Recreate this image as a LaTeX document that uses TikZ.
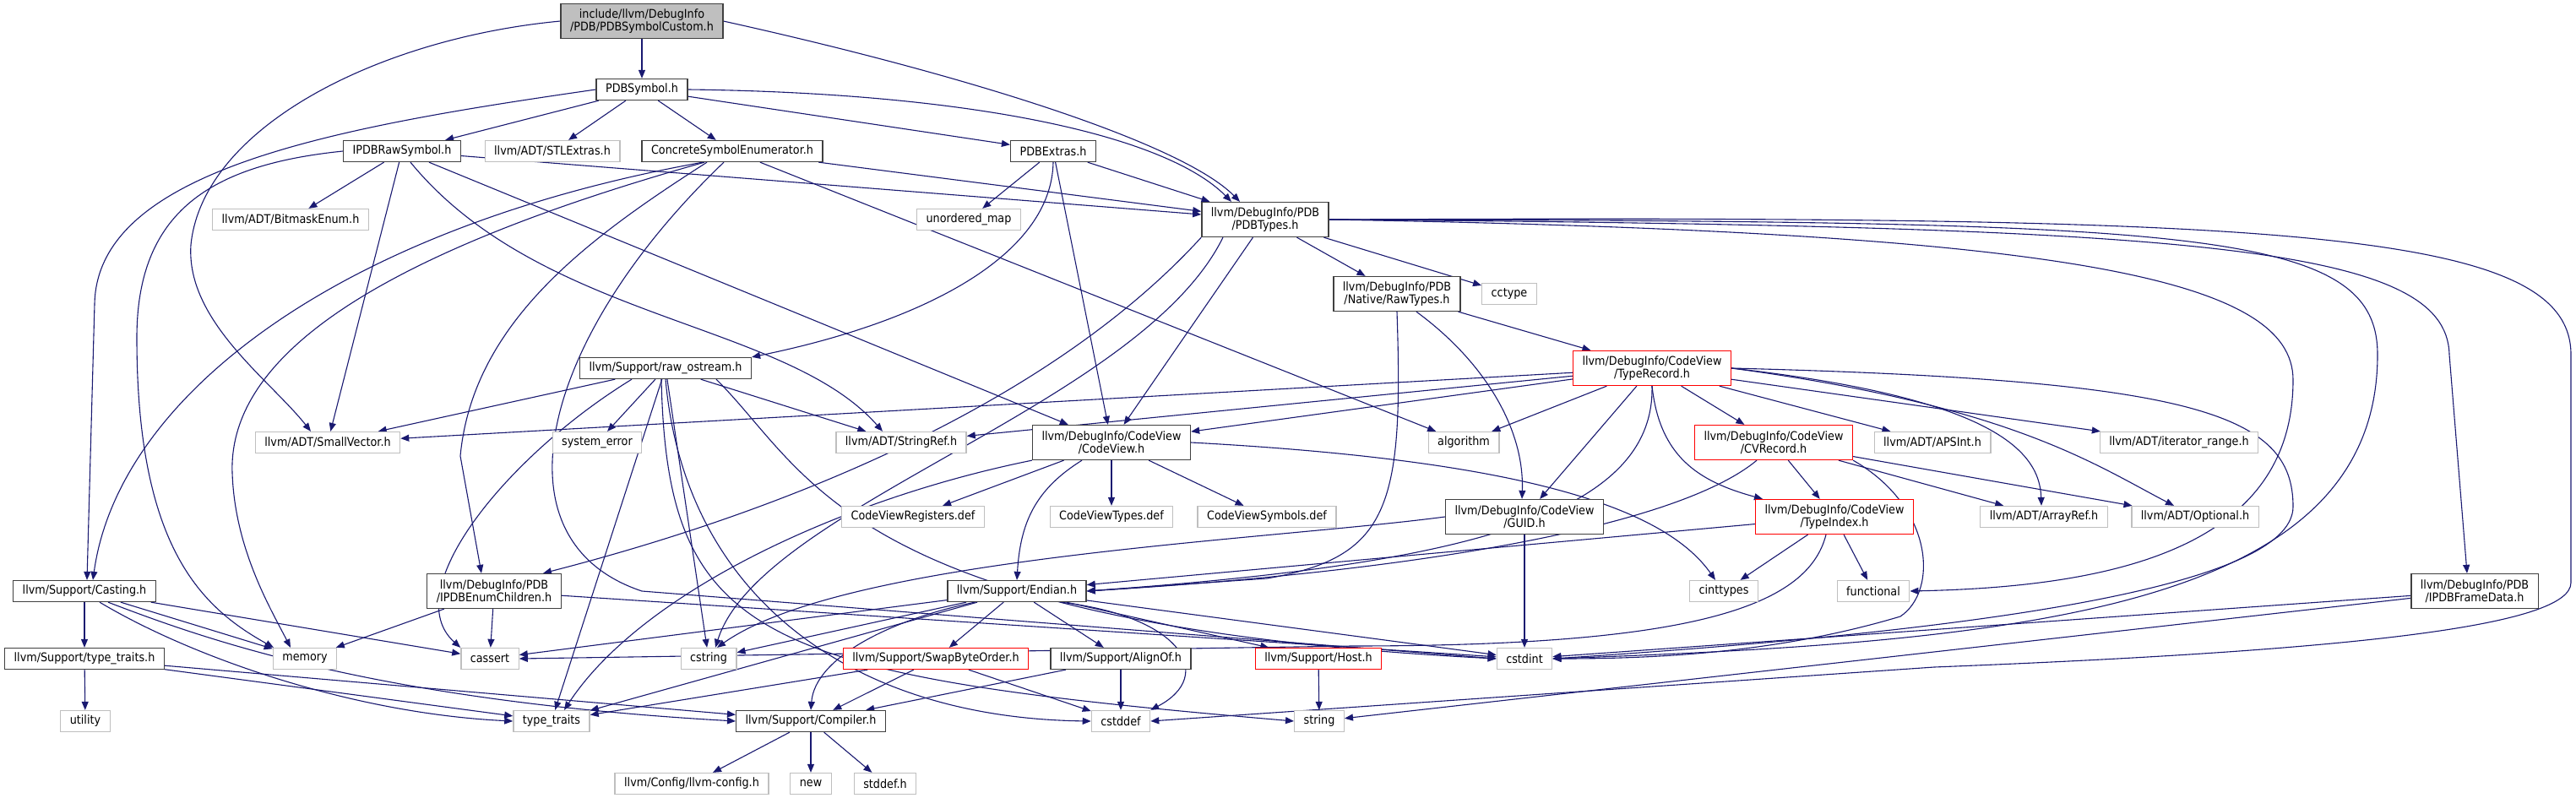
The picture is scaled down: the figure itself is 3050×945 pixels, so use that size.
\documentclass[tikz,border=0pt]{standalone}
\usepackage{fontspec}
\setmainfont[FakeStretch=0.9]{DejaVu Sans}
\usetikzlibrary{arrows.meta, backgrounds}
\tikzset{every node/.append style={align=center}}
\definecolor{edgecol}{RGB}{25,25,112}
\definecolor{boxcol}{RGB}{64,64,64}
\definecolor{syscol}{RGB}{191,191,191}
\definecolor{rootcol}{RGB}{191,191,191}
\definecolor{trunccol}{RGB}{255,0,0}

\begin{document}
\begin{tikzpicture}[
  x=1pt, y=-1pt,
  hdr/.style={rectangle, draw=boxcol, line width=1.3pt, fill=white,
              font=\fontsize{14.2}{15}\selectfont, inner xsep=11pt,
              inner ysep=2pt, minimum height=25pt},
  sys/.style={hdr, draw=syscol},
  trunc/.style={hdr, draw=trunccol},
  tall/.style={minimum height=41pt},
  edge/.style={-{Triangle[length=10pt,width=8pt]}, line width=1.1pt, draw=edgecol}
]
\useasboundingbox (0,0) rectangle (3050,945);

% Top of the graph
\node[hdr, tall, fill=rootcol] (root) at (760,25) {include/llvm/DebugInfo\\/PDB/PDBSymbolCustom.h};
\node[hdr] (pdbsym)   at (760,106)  {PDBSymbol.h};
\node[hdr] (rawsym)   at (476,179)  {IPDBRawSymbol.h};
\node[sys] (stlext)   at (654,179)  {llvm/ADT/STLExtras.h};
\node[hdr] (concrete) at (867,179)  {ConcreteSymbolEnumerator.h};
\node[hdr] (extras)   at (1247,179) {PDBExtras.h};
\node[sys] (bitmask)  at (344,260)  {llvm/ADT/BitmaskEnum.h};
\node[sys] (umap)     at (1147,260) {unordered\_map};
\node[hdr, tall] (pdbtypes) at (1498,260) {llvm/DebugInfo/PDB\\/PDBTypes.h};
\node[hdr, tall] (rawtypes) at (1654,348) {llvm/DebugInfo/PDB\\/Native/RawTypes.h};
\node[sys] (cctype)   at (1787,348) {cctype};

% Middle rows
\node[hdr] (ostream)  at (788,436)  {llvm/Support/raw\_ostream.h};
\node[trunc, tall] (typerec) at (1956,436) {llvm/DebugInfo/CodeView\\/TypeRecord.h};
\node[sys] (smallvec) at (388,524)  {llvm/ADT/SmallVector.h};
\node[sys] (syserr)   at (707,524)  {system\_error};
\node[sys] (stringref) at (1067,524) {llvm/ADT/StringRef.h};
\node[hdr, tall] (codeview) at (1316,524) {llvm/DebugInfo/CodeView\\/CodeView.h};
\node[sys] (algorithm) at (1733,524) {algorithm};
\node[trunc, tall] (cvrecord) at (2100,524) {llvm/DebugInfo/CodeView\\/CVRecord.h};
\node[sys] (apsint)   at (2288,524) {llvm/ADT/APSInt.h};
\node[sys] (itrange)  at (2580,524) {llvm/ADT/iterator\_range.h};
\node[sys] (cvregs)   at (1081,612) {CodeViewRegisters.def};
\node[sys] (cvtypes)  at (1316,612) {CodeViewTypes.def};
\node[sys] (cvsyms)   at (1500,612) {CodeViewSymbols.def};
\node[hdr, tall] (guid) at (1805,612) {llvm/DebugInfo/CodeView\\/GUID.h};
\node[trunc, tall] (typeindex) at (2172,612) {llvm/DebugInfo/CodeView\\/TypeIndex.h};
\node[sys] (arrayref) at (2420,612) {llvm/ADT/ArrayRef.h};
\node[sys] (optional) at (2599,612) {llvm/ADT/Optional.h};

% Lower rows
\node[hdr] (casting)  at (100,700)  {llvm/Support/Casting.h};
\node[hdr, tall] (enumchild) at (585,700) {llvm/DebugInfo/PDB\\/IPDBEnumChildren.h};
\node[hdr] (endian)   at (1204,700) {llvm/Support/Endian.h};
\node[sys] (cinttypes) at (2041,700) {cinttypes};
\node[sys] (functional) at (2218,700) {functional};
\node[hdr, tall] (framedata) at (2930,700) {llvm/DebugInfo/PDB\\/IPDBFrameData.h};
\node[hdr] (lltraits) at (100,780)  {llvm/Support/type\_traits.h};
\node[sys] (memory)   at (361,780)  {memory};
\node[sys] (cassert)  at (580,780)  {cassert};
\node[sys] (cstring)  at (839,780)  {cstring};
\node[trunc] (swap)   at (1108,780) {llvm/Support/SwapByteOrder.h};
\node[hdr] (alignof)  at (1327,780) {llvm/Support/AlignOf.h};
\node[trunc] (host)   at (1561,780) {llvm/Support/Host.h};
\node[sys] (cstdint)  at (1805,780) {cstdint};
\node[sys] (utility)  at (101,854)  {utility};
\node[sys] (typetraits) at (653,854) {type\_traits};
\node[hdr] (compiler) at (960,854)  {llvm/Support/Compiler.h};
\node[sys] (cstddef)  at (1327,854) {cstddef};
\node[sys] (string)   at (1562,854) {string};
\node[sys] (llvmconfig) at (819,928) {llvm/Config/llvm-config.h};
\node[sys] (new)      at (960,928)  {new};
\node[sys] (stddef)   at (1048,928) {stddef.h};

\begin{scope}[on background layer]
% Straight includes
\foreach \a/\b in {root/pdbsym, pdbsym/rawsym, pdbsym/stlext, pdbsym/concrete, pdbsym/extras,
    rawsym/bitmask, rawsym/smallvec, rawsym/codeview, rawsym/pdbtypes,
    concrete/pdbtypes, concrete/algorithm,
    extras/umap, extras/pdbtypes, extras/codeview,
    pdbtypes/rawtypes, pdbtypes/cctype, pdbtypes/codeview, rawtypes/typerec,
    ostream/smallvec, ostream/stringref, ostream/syserr, ostream/cstring, ostream/typetraits,
    typerec/smallvec, typerec/stringref, typerec/codeview, typerec/algorithm, typerec/guid,
    typerec/cvrecord, typerec/apsint, typerec/itrange,
    codeview/cvregs, codeview/cvtypes, codeview/cvsyms,
    cvrecord/typeindex, cvrecord/arrayref, cvrecord/optional, guid/cstdint,
    typeindex/endian, typeindex/cinttypes, typeindex/functional,
    casting/lltraits, casting/memory, casting/cassert,
    enumchild/memory, enumchild/cassert, enumchild/cstdint,
    endian/swap, endian/alignof, endian/host, endian/cstdint, endian/cstring,
    endian/cassert, endian/typetraits, framedata/cstdint, framedata/string,
    lltraits/utility, lltraits/typetraits, lltraits/compiler,
    swap/compiler, swap/cstddef, swap/typetraits, alignof/compiler, alignof/cstddef,
    host/string, compiler/llvmconfig, compiler/new, compiler/stddef}
  \draw[edge] (\a) -- (\b);

% Curved includes
\draw[edge] (root.west) .. controls (450,45) and (240,150) .. (226,290)
            .. controls (220,380) and (320,450) .. ([xshift=-20pt]smallvec.north);
\draw[edge] (root.east) .. controls (1150,90) and (1400,170) .. ([xshift=-30pt]pdbtypes.north);
\draw[edge] (pdbsym.east) .. controls (1150,110) and (1380,160) .. ([xshift=-40pt]pdbtypes.north);
\draw[edge] (pdbsym.west) .. controls (400,150) and (115,200) .. (112,360) -- ([xshift=3pt]casting.north);
\draw[edge] (rawsym.west) .. controls (250,195) and (162,250) .. (162,400)
            .. controls (162,650) and (240,720) .. ([xshift=-37pt]memory.north);
\draw[edge] ([xshift=10pt]rawsym.south) .. controls (640,380) and (930,380) .. ([xshift=-22pt]stringref.north);
\draw[edge] ([xshift=-35pt]concrete.south) .. controls (400,270) and (140,470) .. ([xshift=10pt]casting.north);
\draw[edge] ([xshift=-33pt]concrete.south) .. controls (450,300) and (270,420) .. (275,560)
            .. controls (278,650) and (320,720) .. ([xshift=-17pt]memory.north);
\draw[edge] ([xshift=-30pt]concrete.south) .. controls (700,280) and (560,380) .. (545,540) -- ([xshift=-15pt]enumchild.north);
\draw[edge] ([xshift=-10pt]concrete.south) .. controls (640,400) and (580,640) .. (760,700) -- (cstdint.west);
\draw[edge] (extras.south) .. controls (1245,300) and (1100,380) .. (ostream.north east);
\draw[edge] (pdbtypes.south west) .. controls (1250,470) and (950,600) .. ([xshift=58pt]enumchild.north);
\draw[edge] ([xshift=-50pt]pdbtypes.south) .. controls (1350,480) and (900,600) .. ([xshift=8pt]cstring.north);
\draw[edge] (pdbtypes.east) .. controls (2600,268) and (2897,290) .. (2900,420) -- ([xshift=-9pt]framedata.north);
\draw[edge] (pdbtypes.east) .. controls (2450,275) and (2715,330) .. (2715,450)
            .. controls (2715,650) and (2500,695) .. (functional.east);
\draw[edge] (pdbtypes.east) .. controls (2600,262) and (2815,270) .. (2815,420)
            .. controls (2815,720) and (2400,760) .. (cstdint.east);
\draw[edge] (pdbtypes.east) .. controls (2700,255) and (3044,270) .. (3044,420) -- (3044,690)
            .. controls (3044,740) and (2800,770) .. (2290,790) -- (cstddef.east);
\draw[edge] ([xshift=23pt]rawtypes.south) .. controls (1760,430) and (1805,510) .. ([xshift=-3pt]guid.north);
\draw[edge] (rawtypes.south) .. controls (1662,600) and (1645,660) .. (1500,685) -- (endian.east);
\draw[edge] (typerec.south) .. controls (1965,540) and (2010,570) .. ([xshift=-85pt]typeindex.north);
\draw[edge] (typerec.south) .. controls (1960,620) and (1700,670) .. (endian.east);
\draw[edge] (typerec.east) .. controls (2350,470) and (2415,530) .. ([xshift=-3pt]arrayref.north);
\draw[edge] (typerec.east) .. controls (2380,480) and (2480,550) .. ([xshift=-25pt]optional.north);
\draw[edge] (typerec.east) .. controls (2600,450) and (2715,490) .. (2715,600)
            .. controls (2715,700) and (2300,750) .. (cstdint.east);
\draw[edge] ([xshift=-35pt]codeview.south) .. controls (1225,580) and (1208,620) .. (endian.north);
\draw[edge] (codeview.east) .. controls (1800,545) and (1970,600) .. ([xshift=-10pt]cinttypes.north);
\draw[edge] (codeview.south west) .. controls (1000,590) and (760,700) .. ([xshift=15pt]typetraits.north);
\draw[edge] ([xshift=-20pt]cvrecord.south) .. controls (1990,620) and (1700,675) .. (endian.east);
\draw[edge] (cvrecord.south east) .. controls (2290,600) and (2295,700) .. (2250,730)
            .. controls (2100,775) and (1950,780) .. (cstdint.east);
\draw[edge] (guid.west) .. controls (1500,640) and (1000,660) .. ([xshift=10pt]cstring.north);
\draw[edge] ([xshift=-10pt]typeindex.south) .. controls (2140,720) and (2000,765) .. (1600,765) -- (cassert.east);
\draw[edge] ([xshift=-40pt]ostream.south) .. controls (600,540) and (470,700) .. (cassert.north west);
\draw[edge] (ostream.south) .. controls (810,700) and (1000,850) .. (cstddef.west);
\draw[edge] ([xshift=-5pt]ostream.south) .. controls (790,760) and (900,800) .. (string.west);
\draw[edge] ([xshift=60pt]ostream.south) .. controls (960,560) and (1000,740) .. (cstdint.west);
\draw[edge] ([xshift=18pt]casting.south) .. controls (230,780) and (420,845) .. (typetraits.west);
\draw[edge] ([xshift=28pt]casting.south) .. controls (250,760) and (450,830) .. (compiler.west);
\draw[edge] ([xshift=-50pt]endian.south) .. controls (1050,735) and (965,780) .. (compiler.north);
\draw[edge] ([xshift=52pt]endian.south) .. controls (1400,730) and (1440,800) .. (cstddef.north east);
\end{scope}

\end{tikzpicture}
\end{document}
